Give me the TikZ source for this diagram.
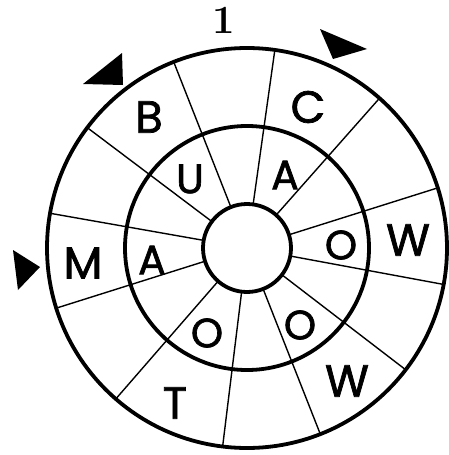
\documentclass[tikz,border=0pt]{standalone}
\usepackage{fontspec}
\newfontfamily\letterfont{Poppins}[FakeBold=1.6]
\begin{document}
\begin{tikzpicture}[x=1pt,y=-1pt,
  ring/.style={line width=3.8pt},
  spoke/.style={line width=1.4pt},
  outerL/.style={inner sep=0pt,font=\letterfont\fontsize{45}{45}\selectfont},
  innerL/.style={inner sep=0pt,font=\letterfont\fontsize{41}{41}\selectfont},
  arrowhead/.style={fill=black}]
\useasboundingbox (0,0) rectangle (449,455);
\coordinate (O) at (247,248);
\foreach \a in {111.5,82,48.5,17.5,-10.5,-37.5,-68.5,-97,-131,-162.5,170,143}
  \draw[spoke] (O) ++(\a:44pt) -- ++(\a:156pt);
\draw[ring] (O) circle[radius=44pt];
\draw[ring] (O) circle[radius=122pt];
\draw[ring] (O) circle[radius=200pt];
% outer ring letters
\node[outerL] (lB) at (149,117) {B};
\node[outerL] (lC) at (308,107) {C};
\node[outerL] (lW1) at (408,240) {W};
\node[outerL] (lW2) at (347,381) {W};
\node[outerL] (lT) at (175,403) {T};
\node[outerL] (lM) at (83,263) {M};
% inner ring letters
\node[innerL] (lU) at (190,179) {U};
\node[innerL] (lA1) at (285,175) {A};
\node[innerL] (lO1) at (341,245) {O};
\node[innerL] (lO2) at (300,325) {O};
\node[innerL] (lO3) at (207,333) {O};
\node[innerL] (lA2) at (152,260) {A};
% number
\node[inner sep=0pt] (one) at (224,20) {\fontsize{40}{40}\selectfont\bfseries 1};
% triangles
\fill[arrowhead] (83,84) -- (122,53) -- (123,85) -- cycle;
\fill[arrowhead] (320,29) -- (367,49) -- (333,59) -- cycle;
\fill[arrowhead] (13,250) -- (40,267) -- (18,290) -- cycle;
\end{tikzpicture}
\end{document}
